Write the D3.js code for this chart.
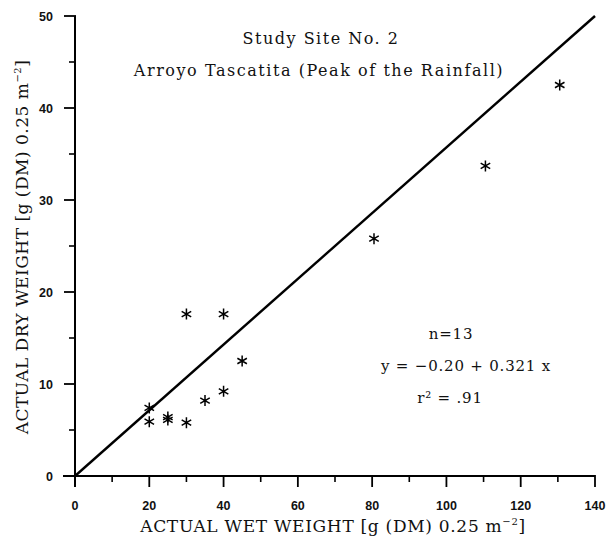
<!DOCTYPE html>
<html>
<head>
<meta charset="utf-8">
<script src="https://cdn.jsdelivr.net/npm/d3@7"></script>
<style>
    body { margin: 0; background: #fff; }
    svg text { fill: #111; }
    .serif { font-family: "DejaVu Serif", "Liberation Serif", serif; }
    .tick-label { font-family: "Liberation Sans", Arial, sans-serif; font-size: 12.5px; font-weight: bold; }
</style>
</head>
<body>
<svg id="chart" width="607" height="537"></svg>
<script>
// wet weight (x) and dry weight (y), g 0.25 m^-2
var wetWeight = [20, 20, 25, 25, 30, 30, 35, 40, 40, 45, 80.5, 110.5, 130.5];
var dryWeight = [7.4, 5.9, 6.4, 6.1, 5.8, 17.6, 8.2, 17.6, 9.2, 12.5, 25.8, 33.7, 42.5];

// fitted line as drawn on the figure
var lineX = [0, 140];
var lineY = [0, 50];

var xTicks = [0, 20, 40, 60, 80, 100, 120, 140];
var yTicks = [0, 10, 20, 30, 40, 50];

var statsLines = ["n=13", "y = \u22120.20 + 0.321 x", "r\u00b2 = .91"];
var statsX = [451, 466, 450];

var svg = d3.select("svg#chart");

var x = d3.scaleLinear().domain([0, 140]).range([75, 595]);
var y = d3.scaleLinear().domain([0, 50]).range([476, 16]);

// axes: major ticks long, minor ticks short
var xAxis = svg.append("g").attr("transform", "translate(0,476)");
xAxis.append("line")
    .attr("x1", 63).attr("x2", x(140))
    .attr("stroke", "#000").attr("stroke-width", 2);
xAxis.selectAll("line.minor")
    .data(d3.range(10, 140, 20))
    .enter().append("line")
    .attr("class", "minor")
    .attr("x1", function(d) { return x(d); })
    .attr("x2", function(d) { return x(d); })
    .attr("y1", 0).attr("y2", 6)
    .attr("stroke", "#000").attr("stroke-width", 1.6);
xAxis.selectAll("line.major")
    .data(xTicks)
    .enter().append("line")
    .attr("class", "major")
    .attr("x1", function(d) { return x(d); })
    .attr("x2", function(d) { return x(d); })
    .attr("y1", -1).attr("y2", 11)
    .attr("stroke", "#000").attr("stroke-width", 1.8);
xAxis.selectAll("text")
    .data(xTicks)
    .enter().append("text")
    .attr("class", "tick-label")
    .attr("x", function(d) { return x(d); })
    .attr("y", 34)
    .attr("text-anchor", "middle")
    .text(function(d) { return d; });

var yAxis = svg.append("g").attr("transform", "translate(75,0)");
yAxis.append("line")
    .attr("y1", y(50)).attr("y2", 487)
    .attr("stroke", "#000").attr("stroke-width", 2);
yAxis.selectAll("line.minor")
    .data(d3.range(5, 50, 10))
    .enter().append("line")
    .attr("class", "minor")
    .attr("y1", function(d) { return y(d); })
    .attr("y2", function(d) { return y(d); })
    .attr("x1", 0).attr("x2", -6)
    .attr("stroke", "#000").attr("stroke-width", 1.6);
yAxis.selectAll("line.major")
    .data(yTicks)
    .enter().append("line")
    .attr("class", "major")
    .attr("y1", function(d) { return y(d); })
    .attr("y2", function(d) { return y(d); })
    .attr("x1", 1).attr("x2", -11)
    .attr("stroke", "#000").attr("stroke-width", 1.8);
yAxis.selectAll("text")
    .data(yTicks)
    .enter().append("text")
    .attr("class", "tick-label")
    .attr("x", -22)
    .attr("y", function(d) { return y(d) + 4.5; })
    .attr("text-anchor", "end")
    .text(function(d) { return d; });

// regression line
svg.append("path")
    .datum(d3.zip(lineX, lineY))
    .attr("d", d3.line()
        .x(function(d) { return x(d[0]); })
        .y(function(d) { return y(d[1]); }))
    .attr("fill", "none")
    .attr("stroke", "#000")
    .attr("stroke-width", 2.4);

// asterisk markers
var star = d3.symbol().type(d3.symbolAsterisk).size(85);
svg.append("g")
    .selectAll("path")
    .data(d3.zip(wetWeight, dryWeight))
    .enter().append("path")
    .attr("d", star)
    .attr("transform", function(d) {
        return "translate(" + x(d[0]) + "," + y(d[1]) + ")";
    })
    .attr("fill", "none")
    .attr("stroke", "#000")
    .attr("stroke-width", 1.5);

// titles
svg.append("text").attr("class", "serif")
    .attr("x", 321).attr("y", 44)
    .attr("text-anchor", "middle")
    .style("font-size", "16px")
    .style("letter-spacing", "1.5px")
    .text("Study Site No. 2");
svg.append("text").attr("class", "serif")
    .attr("x", 319).attr("y", 76)
    .attr("text-anchor", "middle")
    .style("font-size", "16px")
    .style("letter-spacing", "1.55px")
    .text("Arroyo Tascatita (Peak of the Rainfall)");

svg.append("g").selectAll("text")
    .data(statsLines)
    .enter().append("text")
    .attr("class", "serif")
    .attr("x", function(d, i) { return statsX[i]; })
    .attr("y", function(d, i) { return 339 + i * 32; })
    .attr("text-anchor", "middle")
    .style("font-size", "15px")
    .style("letter-spacing", "0.8px")
    .text(function(d) { return d; });

// axis titles
var xTitle = svg.append("text").attr("class", "serif")
    .attr("x", 333).attr("y", 532)
    .attr("text-anchor", "middle")
    .style("font-size", "17px")
    .style("letter-spacing", "0.7px");
xTitle.append("tspan").text("ACTUAL WET WEIGHT [g (DM) 0.25 m");
xTitle.append("tspan").attr("dy", -7).style("font-size", "10px").text("\u22122");
xTitle.append("tspan").attr("dy", 7).text("]");

var yTitle = svg.append("text").attr("class", "serif")
    .attr("transform", "translate(28,247) rotate(-90)")
    .attr("text-anchor", "middle")
    .style("font-size", "17px")
    .style("letter-spacing", "0.5px");
yTitle.append("tspan").text("ACTUAL DRY WEIGHT [g (DM) 0.25 m");
yTitle.append("tspan").attr("dy", -7).style("font-size", "10px").text("\u22122");
yTitle.append("tspan").attr("dy", 7).text("]");
</script>
</body>
</html>
